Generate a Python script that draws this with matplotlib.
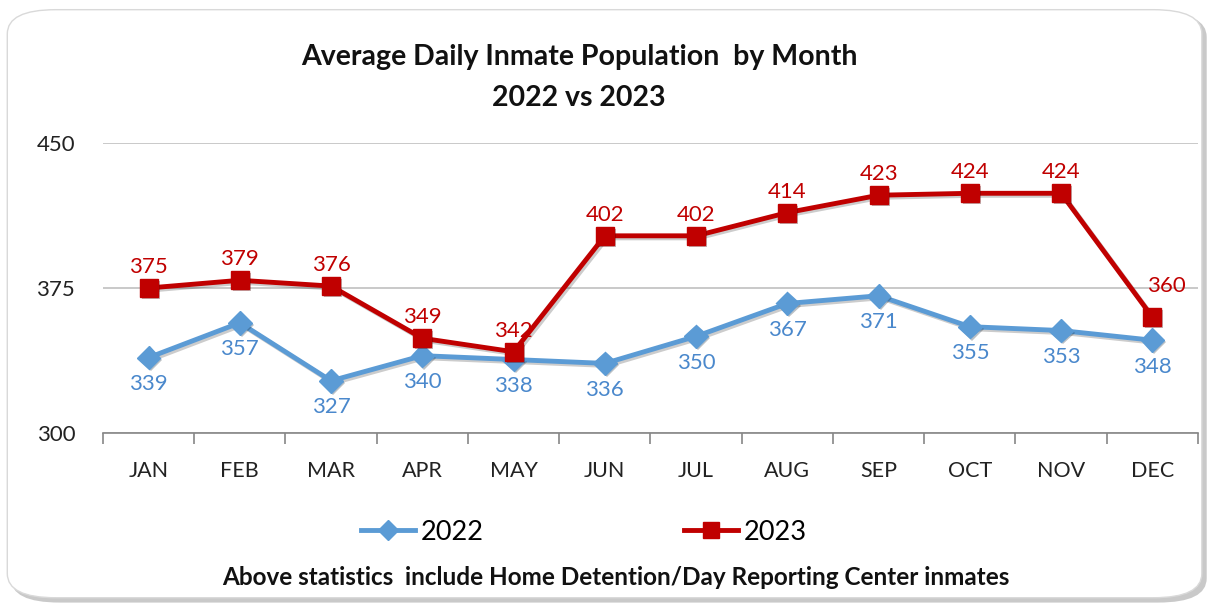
import matplotlib
matplotlib.use("Agg")
import matplotlib.pyplot as plt
import matplotlib.patheffects as pe
from matplotlib.patches import FancyBboxPatch
from matplotlib.lines import Line2D

# ── Datos ────────────────────────────────────────────────────────────────
months = ["JAN", "FEB", "MAR", "APR", "MAY", "JUN",
          "JUL", "AUG", "SEP", "OCT", "NOV", "DEC"]
pop_2022 = [339, 357, 327, 340, 338, 336, 350, 367, 371, 355, 353, 348]
pop_2023 = [375, 379, 376, 349, 342, 402, 402, 414, 423, 424, 424, 360]
y_ticks = [300, 375, 450]

BLUE = "#5b9bd5"
BLUE_TXT = "#4a88cc"
RED = "#c00000"
FONT = "Lato"

plt.rcParams["font.family"] = [FONT, "DejaVu Sans"]

fig = plt.figure(figsize=(12.14, 6.05), dpi=100)

# marco redondeado con sombra
shadow = FancyBboxPatch((0.009, 0.004), 0.985, 0.975, transform=fig.transFigure,
                        boxstyle="round,pad=0,rounding_size=0.04",
                        facecolor="#a6a6a6", edgecolor="none", alpha=0.6, zorder=-2)
frame = FancyBboxPatch((0.006, 0.012), 0.984, 0.972, transform=fig.transFigure,
                       boxstyle="round,pad=0,rounding_size=0.04",
                       facecolor="white", edgecolor="#d9d9d9", linewidth=1.0, zorder=-1)
fig.patches.extend([shadow, frame])

ax = fig.add_axes([0.0848, 0.2843, 0.902, 0.4793])
ax.set_facecolor("none")
x = list(range(len(months)))

line_fx = [pe.SimpleLineShadow(offset=(1.5, -1.5), alpha=0.2), pe.Normal()]
mark_fx = [pe.SimplePatchShadow(offset=(1.5, -1.5), alpha=0.3), pe.Normal()]

# líneas (con sombra) y marcadores por separado
ax.plot(x, pop_2022, color=BLUE, linewidth=3.5, zorder=3, path_effects=line_fx)
ax.plot(x, pop_2022, linestyle="none", marker="D", markersize=12,
        markerfacecolor=BLUE, markeredgecolor=BLUE, zorder=4, path_effects=mark_fx)
ax.plot(x, pop_2023, color=RED, linewidth=3.5, zorder=3, path_effects=line_fx)
ax.plot(x, pop_2023, linestyle="none", marker="s", markersize=13,
        markerfacecolor=RED, markeredgecolor=RED, zorder=4, path_effects=mark_fx)

for i, v in enumerate(pop_2022):
    ax.annotate(str(v), (i, v), xytext=(0, -12), textcoords="offset points",
                ha="center", va="top", fontsize=16, color=BLUE_TXT)
for i, v in enumerate(pop_2023):
    # la etiqueta de diciembre va algo desplazada arriba a la derecha
    off = (10, 15) if i == len(pop_2023) - 1 else (0, 8)
    ax.annotate(str(v), (i, v), xytext=off, textcoords="offset points",
                ha="center", va="bottom", fontsize=16, color=RED)

ax.set_xlim(-0.5, len(months) - 0.5)
ax.set_ylim(300, 450)
ax.set_yticks(y_ticks)
ax.set_yticklabels([str(t) for t in y_ticks], fontsize=16, color="#222222")
ax.tick_params(axis="y", length=0, pad=20)
ax.set_xticks(x)
ax.set_xticklabels(months, fontsize=15.5, color="#222222")
ax.set_xticks([i - 0.5 for i in range(len(months) + 1)], minor=True)
ax.tick_params(axis="x", which="major", length=0, pad=20)
ax.tick_params(axis="x", which="minor", length=8, width=1.2, color="#868686", direction="out")
ax.yaxis.grid(True, color="#c0c0c0", linewidth=1.2)
ax.set_axisbelow(True)
for s in ["top", "right", "left"]:
    ax.spines[s].set_visible(False)
ax.spines["bottom"].set_color("#868686")
ax.spines["bottom"].set_linewidth(1.2)

# título
fig.text(0.477, 0.905, "Average Daily Inmate Population  by Month", ha="center", va="center",
         fontsize=20.5, fontweight="bold", color="#111111")
fig.text(0.477, 0.838, "2022 vs 2023", ha="center", va="center",
         fontsize=20.5, fontweight="bold", color="#111111")

# leyenda
handles = [Line2D([], [], color=BLUE, linewidth=3.5, marker="D", markersize=10),
           Line2D([], [], color=RED, linewidth=3.5, marker="s", markersize=11)]
fig.legend(handles, ["2022", "2023"], loc="center", bbox_to_anchor=(0.481, 0.12),
           ncol=2, frameon=False, fontsize=19.5, handlelength=2.0, columnspacing=7.4,
           handletextpad=0.2)

fig.text(0.507, 0.045, "Above statistics  include Home Detention/Day Reporting Center inmates",
         ha="center", va="center", fontsize=17.5, fontweight="bold", color="#111111")

fig.savefig("out.png", dpi=100)
